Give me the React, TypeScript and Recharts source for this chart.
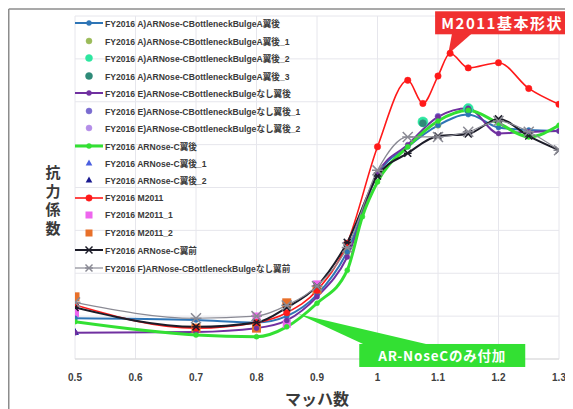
import React from 'react';
import {
  ComposedChart,
  Line,
  Scatter,
  XAxis,
  YAxis,
  CartesianGrid,
  Legend,
  ReferenceDot,
  Customized,
} from 'recharts';

// ---- data ----
const xTicks = [0.5, 0.6, 0.7, 0.8, 0.9, 1.0, 1.1, 1.2, 1.3];
const yTicks = [0, 1, 2, 3, 4, 5, 6, 7, 8];

const machStd = [0.5, 0.7, 0.8, 0.85, 0.9, 0.95, 1.0, 1.05, 1.1, 1.15, 1.2, 1.25, 1.3];
const cdA = [0.95, 0.91, 0.85, 1.0, 1.5, 2.5, 4.3, 4.95, 5.45, 5.7, 5.4, 5.34, 5.32];
const cdE = [0.61, 0.63, 0.72, 0.9, 1.45, 2.38, 4.33, 5.0, 5.65, 5.85, 5.26, 5.3, 5.32];
const cdCFront = [1.2, 0.75, 0.85, 1.2, 1.7, 2.72, 4.27, 4.8, 5.2, 5.25, 5.6, 5.2, 4.87];
const cdFFront = [1.32, 0.95, 1.0, 1.25, 1.7, 2.6, 4.4, 5.18, 5.18, 5.3, 5.55, 5.3, 4.87];

const machC = [0.5, 0.7, 0.8, 0.85, 0.9, 0.95, 0.975, 1.0, 1.05, 1.1, 1.15, 1.2, 1.25, 1.3];
const cdC = [0.87, 0.56, 0.52, 0.75, 1.3, 2.07, 3.32, 4.13, 4.95, 5.55, 5.8, 5.5, 5.18, 5.45];

const machM = [0.5, 0.7, 0.8, 0.85, 0.9, 0.95, 1.0, 1.05, 1.075, 1.1, 1.12, 1.15, 1.2, 1.25, 1.3];
const cdM = [1.26, 0.72, 0.85, 1.08, 1.6, 2.7, 4.95, 6.5, 5.96, 6.6, 7.13, 6.79, 6.91, 6.31, 5.94];

const machA1 = [0.95, 1.1];
const cdA1 = [2.5, 5.45];
const machA2 = [1.075, 1.15];
const cdA2 = [5.53, 5.84];
const machA3 = [1.075, 1.15];
const cdA3 = [5.5, 5.8];
const machE1 = [1.1];
const cdE1 = [5.66];
const machE2 = [0.85];
const cdE2 = [0.9];
const machC1 = [0.5];
const cdC1 = [0.63];
const machC2 = [0.5];
const cdC2 = [0.63];
const machM1 = [0.5, 0.8, 0.85, 0.9];
const cdM1 = [1.07, 0.99, 0.82, 1.74];
const machM2 = [0.5, 0.7, 0.8, 0.85, 0.9];
const cdM2 = [1.45, 0.72, 0.72, 1.31, 1.62];

const names = [
  'FY2016 A)ARNose-CBottleneckBulgeA翼後',
  'FY2016 A)ARNose-CBottleneckBulgeA翼後_1',
  'FY2016 A)ARNose-CBottleneckBulgeA翼後_2',
  'FY2016 A)ARNose-CBottleneckBulgeA翼後_3',
  'FY2016 E)ARNose-CBottleneckBulgeなし翼後',
  'FY2016 E)ARNose-CBottleneckBulgeなし翼後_1',
  'FY2016 E)ARNose-CBottleneckBulgeなし翼後_2',
  'FY2016 ARNose-C翼後',
  'FY2016 ARNose-C翼後_1',
  'FY2016 ARNose-C翼後_2',
  'FY2016 M2011',
  'FY2016 M2011_1',
  'FY2016 M2011_2',
  'FY2016  ARNose-C翼前',
  'FY2016 F)ARNose-CBottleneckBulgeなし翼前',
];

const calloutRed = 'M2011基本形状';
const calloutGreen = 'AR-NoseCのみ付加';
const xLabel = 'マッハ数';
const yLabel = '抗力係数';

const zip = (xs: number[], ys: number[]) => xs.map((x, i) => ({ x, y: ys[i] }));

// ---- styles ----
type Shape = 'circle' | 'triangle' | 'square' | 'x' | 'diamond';
interface SeriesStyle {
  color: string;
  line: boolean;
  width?: number;
  shape: Shape;
  size: number;
}
const styles: SeriesStyle[] = [
  { color: '#2e75b6', line: true, width: 2, shape: 'circle', size: 2.5 },
  { color: '#9bbb59', line: false, shape: 'circle', size: 3 },
  { color: '#2ee6a0', line: false, shape: 'circle', size: 5 },
  { color: '#2f8a78', line: false, shape: 'circle', size: 3.5 },
  { color: '#7030a0', line: true, width: 2, shape: 'circle', size: 2.5 },
  { color: '#7a6cd0', line: false, shape: 'circle', size: 3 },
  { color: '#b48ee8', line: false, shape: 'circle', size: 3 },
  { color: '#33e033', line: true, width: 3, shape: 'circle', size: 2.5 },
  { color: '#4a5fe0', line: false, shape: 'triangle', size: 4 },
  { color: '#1a1a90', line: false, shape: 'triangle', size: 4 },
  { color: '#ff1a1a', line: true, width: 1.6, shape: 'circle', size: 3.2 },
  { color: '#ee66ee', line: false, shape: 'square', size: 4 },
  { color: '#e8702a', line: false, shape: 'square', size: 4.5 },
  { color: '#1c1c28', line: true, width: 2, shape: 'x', size: 3.5 },
  { color: '#8a8a94', line: true, width: 1.2, shape: 'x', size: 5 },
];

const series = [
  zip(machStd, cdA),
  zip(machA1, cdA1),
  zip(machA2, cdA2),
  zip(machA3, cdA3),
  zip(machStd, cdE),
  zip(machE1, cdE1),
  zip(machE2, cdE2),
  zip(machC, cdC),
  zip(machC1, cdC1),
  zip(machC2, cdC2),
  zip(machM, cdM),
  zip(machM1, cdM1),
  zip(machM2, cdM2),
  zip(machStd, cdCFront),
  zip(machStd, cdFFront),
];

const drawShape = (shape: Shape, cx: number, cy: number, s: number, color: string, key?: any) => {
  if (cx == null || cy == null || isNaN(cx) || isNaN(cy)) return <g key={key} />;
  switch (shape) {
    case 'circle':
      return <circle key={key} cx={cx} cy={cy} r={s} fill={color} stroke={color} strokeWidth={0.5} />;
    case 'square':
      return <rect key={key} x={cx - s} y={cy - s} width={2 * s} height={2 * s} fill={color} />;
    case 'diamond':
      return (
        <polygon key={key} points={`${cx},${cy - s} ${cx + s},${cy} ${cx},${cy + s} ${cx - s},${cy}`} fill={color} />
      );
    case 'triangle':
      return (
        <polygon
          key={key}
          points={`${cx},${cy - s} ${cx + s * 0.95},${cy + s * 0.7} ${cx - s * 0.95},${cy + s * 0.7}`}
          fill={color}
        />
      );
    case 'x':
      return (
        <g key={key} stroke={color} strokeWidth={1.5}>
          <line x1={cx - s} y1={cy - s} x2={cx + s} y2={cy + s} />
          <line x1={cx - s} y1={cy + s} x2={cx + s} y2={cy - s} />
          <line x1={cx - s * 1.1} y1={cy} x2={cx + s * 1.1} y2={cy} />
        </g>
      );
  }
  return <g key={key} />;
};

const FONT = '"Liberation Sans", Arial, "Noto Sans CJK JP", sans-serif';
const CJK = '"Noto Sans CJK JP", "Liberation Sans", sans-serif';

const LegendContent = () => (
  <div style={{ fontFamily: FONT, fontWeight: 700, fontSize: 8.6, color: '#3a3a3a' }}>
    {names.map((n, i) => {
      const st = styles[i];
      return (
        <div key={n} style={{ height: 17.48, display: 'flex', alignItems: 'center', whiteSpace: 'nowrap' }}>
          <svg width={30} height={12} style={{ flex: 'none' }}>
            {st.line && <line x1={0} y1={6} x2={28} y2={6} stroke={st.color} strokeWidth={st.width} />}
            {drawShape(st.shape, 14, 6, Math.min(st.size, 3.5), st.color)}
          </svg>
          <span>{n}</span>
        </div>
      );
    })}
  </div>
);

const RedCallout = (props: any) => {
  const { cx, cy } = props;
  if (cx == null) return <g />;
  return (
    <g>
      <polygon points={`${cx - 2},${cy + 1} ${cx + 2},${cy - 20} ${cx + 22},${cy - 20}`} fill="#f03030" />
      <rect x={cx - 15} y={cy - 42} width={134} height={23} fill="#f03030" />
      <text
        x={cx + 52}
        y={cy - 30.5}
        textAnchor="middle"
        dominantBaseline="central"
        fill="#ffffff"
        fontFamily={CJK}
        fontWeight={700}
        fontSize={15}
        letterSpacing={1.5}
      >
        {calloutRed}
      </text>
    </g>
  );
};

const GreenCallout = (props: any) => {
  const { cx, cy } = props;
  if (cx == null) return <g />;
  return (
    <g>
      <polygon points={`${cx},${cy} ${cx + 67},${cy + 31} ${cx + 132},${cy + 31}`} fill="#33e033" />
      <rect x={cx + 61} y={cy + 30} width={166} height={23} fill="#33e033" />
      <text
        x={cx + 144}
        y={cy + 41.5}
        textAnchor="middle"
        dominantBaseline="central"
        fill="#ffffff"
        fontFamily={CJK}
        fontWeight={700}
        fontSize={13.5}
        letterSpacing={0.8}
      >
        {calloutGreen}
      </text>
    </g>
  );
};

const Decorations = () => (
  <g>
    <line x1={0.75} y1={1} x2={565} y2={1} stroke="#8c8c8c" strokeWidth={1.5} />
    <line x1={0.75} y1={1} x2={0.75} y2={401} stroke="#8c8c8c" strokeWidth={1.5} />
    <text
      x={45}
      y={157}
      fontFamily={CJK}
      fontWeight={700}
      fontSize={15}
      fill="#3a3a3a"
      style={{ writingMode: 'vertical-rl' as any }}
      letterSpacing={3.6}
    >
      {yLabel}
    </text>
    <text
      x={309}
      y={390}
      fontFamily={CJK}
      fontWeight={700}
      fontSize={16}
      fill="#3a3a3a"
      textAnchor="middle"
      dominantBaseline="central"
    >
      {xLabel}
    </text>
  </g>
);

export default function App() {
  return (
    <div style={{ width: 565, height: 401, position: 'relative', background: '#fff' }}>
      <ComposedChart width={565} height={401} margin={{ top: 8, right: 14, left: 67, bottom: 20 }}>
        <CartesianGrid stroke="#e6e6ec" strokeWidth={1} />
        <XAxis
          type="number"
          dataKey="x"
          domain={[0.5, 1.3]}
          ticks={xTicks}
          allowDataOverflow
          height={30}
          tickLine={false}
          tickSize={0}
          tickMargin={15}
          axisLine={{ stroke: '#d9d9d9' }}
          tick={{ fontFamily: FONT, fontWeight: 700, fontSize: 10, fill: '#404040' }}
          tickFormatter={(v: number) => String(Math.round(v * 10) / 10)}
        />
        <YAxis type="number" dataKey="y" domain={[0, 8]} ticks={yTicks} hide width={0} />
        {series.map((d, i) => {
          const st = styles[i];
          if (st.line) {
            return (
              <Line
                key={names[i]}
                data={d}
                dataKey="y"
                name={names[i]}
                type="monotone"
                stroke={st.color}
                strokeWidth={st.width}
                isAnimationActive={false}
                dot={(p: any) => drawShape(st.shape, p.cx, p.cy, st.size, st.color, p.index)}
                activeDot={false}
              />
            );
          }
          return (
            <Scatter
              key={names[i]}
              data={d}
              dataKey="y"
              name={names[i]}
              fill={st.color}
              isAnimationActive={false}
              shape={(p: any) => drawShape(st.shape, p.cx, p.cy, st.size, st.color)}
            />
          );
        })}
        <ReferenceDot x={1.12} y={7.13} r={0} shape={RedCallout} ifOverflow="visible" />
        <ReferenceDot x={0.869} y={1.05} r={0} shape={GreenCallout} ifOverflow="visible" />
        <Legend
          layout="vertical"
          align="center"
          verticalAlign="middle"
          content={LegendContent}
          wrapperStyle={{ left: 67, top: 6.5, width: 260 }}
        />
        <Customized component={<Decorations />} />
      </ComposedChart>
    </div>
  );
}
